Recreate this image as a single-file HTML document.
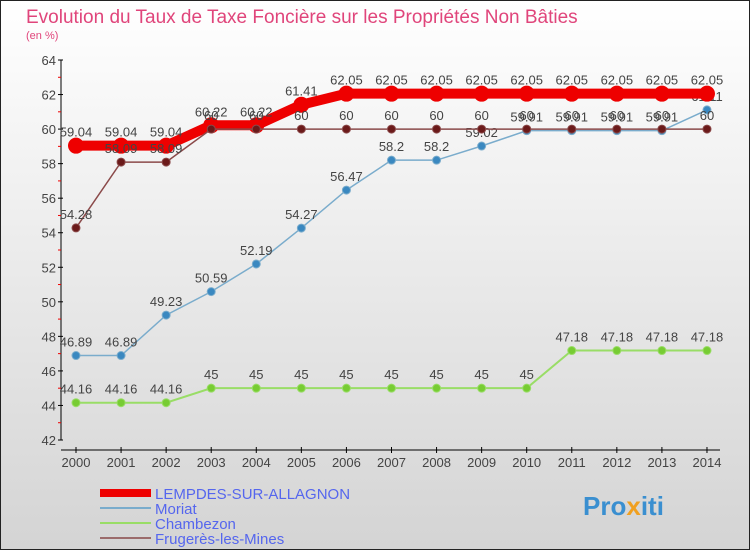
<!DOCTYPE html>
<html><head><meta charset="utf-8"><style>
body{margin:0;width:750px;height:550px;overflow:hidden;font-family:"Liberation Sans","DejaVu Sans",sans-serif}
</style></head><body>
<svg id="c" width="750" height="550" xmlns="http://www.w3.org/2000/svg">
<defs><linearGradient id="bg" x1="0" y1="0" x2="0" y2="1"><stop offset="0" stop-color="#ffffff"/><stop offset="1" stop-color="#d4d4d4"/></linearGradient></defs>
<rect x="0.5" y="0.5" width="749" height="549" fill="url(#bg)" stroke="#222"/>
<text x="26" y="23" font-size="19" fill="#e0457b">Evolution du Taux de Taxe Foncière sur les Propriétés Non Bâties</text>
<text x="26" y="39" font-size="11" fill="#e0457b">(en %)</text>
<g id="axes"></g><g id="series"></g>
<g>
<rect x="100" y="489" width="51" height="8" fill="#e00"/>
<text x="155" y="499" font-size="15" fill="#5566ee">LEMPDES-SUR-ALLAGNON</text>
<rect x="100" y="507" width="51" height="2" fill="#7aaccc"/>
<text x="155" y="514" font-size="15" fill="#5566ee">Moriat</text>
<rect x="100" y="522" width="51" height="2" fill="#99dd66"/>
<text x="155" y="529" font-size="15" fill="#5566ee">Chambezon</text>
<rect x="100" y="537" width="51" height="2" fill="#9b6b6b"/>
<text x="155" y="544" font-size="15" fill="#5566ee">Frugerès-les-Mines</text>
</g>
<text x="583" y="515" font-size="26" font-weight="bold" fill="#3a8fd0">Pro<tspan fill="#f0a020">x</tspan>iti</text>
</svg>
<script>
const years=["2000","2001","2002","2003","2004","2005","2006","2007","2008","2009","2010","2011","2012","2013","2014"];
const yTicks=[42,44,46,48,50,52,54,56,58,60,62,64];
const lempdes=[59.04,59.04,59.04,60.22,60.22,61.41,62.05,62.05,62.05,62.05,62.05,62.05,62.05,62.05,62.05];
const moriat=[46.89,46.89,49.23,50.59,52.19,54.27,56.47,58.2,58.2,59.02,59.91,59.91,59.91,59.91,61.11];
const chambezon=[44.16,44.16,44.16,45,45,45,45,45,45,45,45,47.18,47.18,47.18,47.18];
const frugeres=[54.28,58.09,58.09,60,60,60,60,60,60,60,60,60,60,60,60];
const NS="http://www.w3.org/2000/svg";
const X=i=>76+i*45.07, Y=v=>440-(v-42)*380/22;
function mk(p,t,a){const e=document.createElementNS(NS,t);for(const k in a)e.setAttribute(k,a[k]);p.appendChild(e);return e;}
const ax=document.getElementById('axes'),sg=document.getElementById('series');
let e=mk(ax,'line',{x1:61,y1:60,x2:61,y2:440,stroke:'#000'});


e=mk(ax,'line',{x1:61,y1:450,x2:720,y2:450,stroke:'#000'});


yTicks.forEach(v=>{mk(ax,'line',{x1:58,x2:63,y1:Y(v),y2:Y(v),stroke:'#000'});
 if(v<64)mk(ax,'line',{x1:58,x2:61,y1:Y(v+1),y2:Y(v+1),stroke:'#e00'});
 const t=mk(ax,'text',{x:56,y:Y(v)+5,'font-size':13,fill:'#444','text-anchor':'end'});t.textContent=v;
 
 });
years.forEach((y,i)=>{mk(ax,'line',{x1:X(i),x2:X(i),y1:447,y2:453,stroke:'#000'});
 const t=mk(ax,'text',{x:X(i),y:467,'font-size':13,fill:'#444','text-anchor':'middle'});t.textContent=y;
 
 });
function series(data,name,col,dot,w,r){
 const g=mk(sg,'g',{});
 
 
 mk(g,'polyline',{points:data.map((v,i)=>X(i)+','+Y(v)).join(' '),fill:'none',stroke:col,'stroke-width':w});
 data.forEach((v,i)=>{const c=mk(g,'circle',{cx:X(i),cy:Y(v),r:r,fill:dot,stroke:col,'stroke-width':1});
  
  
  const t=mk(g,'text',{x:X(i),y:Y(v)-9,'font-size':13,fill:'#444','text-anchor':'middle'});t.textContent=v;
  
  });
}
series(chambezon,'chambezon','#99dd66','#77cc33',2,4);
series(moriat,'moriat','#7aaccc','#3a88c0',1.5,4);
series(lempdes,'lempdes','#ee0000','#ee0000',10,7.5);
series(frugeres,'frugeres','#8b4a4a','#6b1a1a',1.5,4);
</script>
</body></html>
